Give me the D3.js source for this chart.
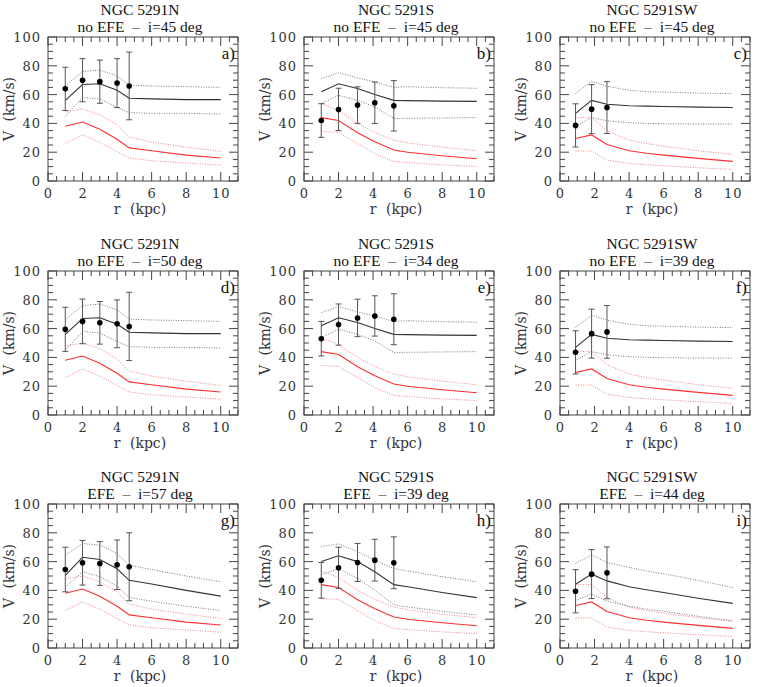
<!DOCTYPE html>
<html>
<head>
<meta charset="utf-8">
<title>NGC 5291 rotation curves</title>
<script src="https://cdn.jsdelivr.net/npm/d3@7"></script>
<style>
body{
  margin:0;
  background:#fff}

svg{
  display:block}
</style>
</head>
<body>
<script>
// Panel texts (row by row).
const galaxyNames = ['NGC 5291N', 'NGC 5291S', 'NGC 5291SW',
                     'NGC 5291N', 'NGC 5291S', 'NGC 5291SW',
                     'NGC 5291N', 'NGC 5291S', 'NGC 5291SW']
const subTitles = ['no EFE  \u2013  i=45 deg', 'no EFE  \u2013  i=45 deg', 'no EFE  \u2013  i=45 deg',
                   'no EFE  \u2013  i=50 deg', 'no EFE  \u2013  i=34 deg', 'no EFE  \u2013  i=39 deg',
                   'EFE  \u2013  i=57 deg', 'EFE  \u2013  i=39 deg', 'EFE  \u2013  i=44 deg']
const panelLetters = ['a)', 'b)', 'c)', 'd)', 'e)', 'f)', 'g)', 'h)', 'i)']

// Axis ticks.
const xTicks = [0, 2, 4, 6, 8, 10]
const yTicks = [0, 20, 40, 60, 80, 100]

// Observed radii (kpc) for each galaxy.
const obsR_N = [1, 2, 3, 4, 4.7]
const obsR_S = [1, 2, 3.1, 4.1, 5.2]
const obsR_SW = [0.9, 1.83, 2.72]

// Observed velocities (km/s) and errors per panel.
const obsV_a = [64, 70, 69, 68, 66]
const obsE_a = [15, 15, 15, 17, 23.5]
const obsV_b = [42, 49.7, 52.7, 54.3, 52.2]
const obsE_b = [11.7, 14.7, 12.7, 14.4, 17.5]
const obsV_c = [38.6, 49.9, 51]
const obsE_c = [15, 17, 18]
const obsV_d = [59.5, 65, 64, 63.3, 61.5]
const obsE_d = [15.3, 15.5, 14.8, 16.6, 23.7]
const obsV_e = [53, 62.8, 67.4, 68.8, 66.5]
const obsE_e = [12, 14.3, 13, 14, 17.7]
const obsV_f = [43.5, 56.5, 57.7]
const obsE_f = [15, 17, 18.3]
const obsV_g = [54.5, 59.2, 58.7, 57.8, 56.4]
const obsE_g = [15.5, 15.5, 15.2, 17.2, 23.6]
const obsV_h = [47, 55.7, 59.4, 61, 59.2]
const obsE_h = [12.4, 14.3, 13.2, 14.5, 18]
const obsV_i = [39.4, 51.3, 52.2]
const obsE_i = [15, 17, 18]

// Model radii (kpc).
const modR_N = [1, 2, 3, 4, 4.7, 6, 8, 10]
const modR_S = [1, 2, 3.1, 4.1, 5.2, 6, 8, 10]
const modR_SW = [0.9, 1.83, 2.72, 4, 5, 6, 8, 10]

// Newtonian (baryons) curves: best, upper, lower.
const newt_N = [38, 41, 36, 29, 23, 21, 18, 16]
const newtHi_N = [48, 50, 46, 39, 30.5, 27, 23.5, 20.5]
const newtLo_N = [26, 32, 27, 20.5, 16, 14, 12.5, 11]
const newt_S = [44, 42, 33.5, 27.3, 21.5, 20, 17.5, 15.5]
const newtHi_S = [53.5, 49, 40, 33.7, 28.4, 26.5, 23.5, 21]
const newtLo_S = [34.5, 33.7, 26, 19, 13.6, 12.8, 11.2, 10]
const newt_SW = [29.5, 32, 25.4, 21, 19.3, 18, 15.7, 13.6]
const newtHi_SW = [44, 44, 35, 28.4, 26, 24.2, 21, 18.5]
const newtLo_SW = [20.8, 20.8, 14.5, 12.2, 11.3, 10.6, 9.2, 8]

// MOND curves without external field effect.
const mond_N = [56, 67, 67.5, 63, 57.5, 57, 56.5, 56.5]
const mondHi_N = [66, 76, 77, 73, 66.5, 66, 65.5, 65]
const mondLo_N = [45, 58, 57, 51, 47.5, 47, 47, 46.5]
const mond_S = [62, 67.5, 64.2, 60, 56, 55.8, 55.5, 55.3]
const mondHi_S = [71, 75.3, 71.6, 68.8, 65, 65.5, 64.8, 64.4]
const mondLo_S = [53.8, 59.5, 56, 51.5, 43.4, 43.5, 43.8, 44]
const mond_SW = [47, 56, 53.3, 52.3, 52, 51.7, 51.3, 51]
const mondHi_SW = [60.7, 69.3, 65.8, 63, 62, 61.7, 61, 60.7]
const mondLo_SW = [38, 44, 41.8, 40.5, 40, 39.8, 39.6, 39.5]

// MOND curves with external field effect.
const efe_N = [50.5, 63, 61.5, 55, 47, 44.5, 40, 36]
const efeHi_N = [64.5, 72.5, 71.5, 65.5, 57.5, 54.5, 50, 46]
const efeLo_N = [42, 53, 49.5, 43, 35, 32.5, 29, 26]
const efe_S = [60, 64, 60, 53, 44, 42.5, 38.5, 35]
const efeHi_S = [70.4, 72.3, 67, 61, 55.2, 53.5, 49.5, 46]
const efeLo_S = [51, 55, 48.5, 40, 30, 28.5, 25.5, 23]
const efe_SW = [44.3, 51.3, 46.6, 42.5, 40.5, 38.5, 34.5, 31]
const efeHi_SW = [58.7, 64.6, 59.4, 56, 53.5, 51.5, 47, 42]
const efeLo_SW = [33, 37.5, 32.5, 29, 27, 25.5, 22, 19]

// Build panel lookup from the arrays above.
const obsR = [obsR_N, obsR_S, obsR_SW]
const modR = [modR_N, modR_S, modR_SW]
const newt = [[newt_N, newtHi_N, newtLo_N], [newt_S, newtHi_S, newtLo_S], [newt_SW, newtHi_SW, newtLo_SW]]
const noEfe = [[mond_N, mondHi_N, mondLo_N], [mond_S, mondHi_S, mondLo_S], [mond_SW, mondHi_SW, mondLo_SW]]
const withEfe = [[efe_N, efeHi_N, efeLo_N], [efe_S, efeHi_S, efeLo_S], [efe_SW, efeHi_SW, efeLo_SW]]
const mondRows = [noEfe, noEfe, withEfe]
const obsV = [obsV_a, obsV_b, obsV_c, obsV_d, obsV_e, obsV_f, obsV_g, obsV_h, obsV_i]
const obsE = [obsE_a, obsE_b, obsE_c, obsE_d, obsE_e, obsE_f, obsE_g, obsE_h, obsE_i]

// Layout.
const W = 763, H = 687
const pw = 190, ph = 144
const colX = [48, 304, 560]
const rowY = [37, 271, 504]
const serif = '"Liberation Serif", "Times New Roman", serif'
const tickFont = '"DejaVu Serif", serif'

const svg = d3.select('body').append('svg')
  .attr('width', W)
  .attr('height', H)

const x = d3.scaleLinear().domain([0, 11]).range([0, pw])
const y = d3.scaleLinear().domain([0, 100]).range([ph, 0])

d3.range(9).forEach(k => {
  const row = Math.floor(k / 3), col = k % 3
  const g = svg.append('g')
    .attr('transform', `translate(${colX[col]},${rowY[row]})`)

  // titles
  g.append('text')
    .attr('x', pw / 2 - 3).attr('y', -22.5)
    .attr('text-anchor', 'middle')
    .attr('font-family', serif).attr('font-size', 15.5).attr('fill', '#111')
    .text(galaxyNames[k])
  g.append('text')
    .attr('x', pw / 2 - 3).attr('y', -5)
    .attr('text-anchor', 'middle')
    .attr('font-family', serif).attr('font-size', 15.5).attr('fill', '#111')
    .style('white-space', 'pre')
    .text(subTitles[k])

  // minor / major ticks on all four sides, pointing inward
  const xMinor = d3.range(0, 11.01, 0.5)
  const yMinor = d3.range(0, 100.1, 5)
  const tk = g.append('g').attr('stroke', '#444').attr('stroke-width', 1)
  xMinor.forEach(v => {
    const len = v % 2 === 0 ? 9 : 5
    tk.append('line').attr('x1', x(v)).attr('x2', x(v)).attr('y1', ph).attr('y2', ph - len)
    tk.append('line').attr('x1', x(v)).attr('x2', x(v)).attr('y1', 0).attr('y2', len)
  })
  yMinor.forEach(v => {
    const len = v % 20 === 0 ? 9 : 5
    tk.append('line').attr('y1', y(v)).attr('y2', y(v)).attr('x1', 0).attr('x2', len)
    tk.append('line').attr('y1', y(v)).attr('y2', y(v)).attr('x1', pw).attr('x2', pw - len)
  })

  // tick labels
  g.selectAll('.xl').data(xTicks).enter().append('text')
    .attr('x', d => x(d) + 0.5).attr('y', ph + 17)
    .attr('text-anchor', 'middle')
    .attr('font-family', tickFont).attr('font-size', 13).attr('fill', '#333')
    .attr('letter-spacing', 1)
    .text(d => d)
  g.selectAll('.yl').data(yTicks).enter().append('text')
    .attr('x', -7).attr('y', d => y(d) + 5)
    .attr('text-anchor', 'end')
    .attr('font-family', tickFont).attr('font-size', 13).attr('fill', '#333')
    .attr('letter-spacing', 1)
    .text(d => d)

  // axis titles
  g.append('text')
    .attr('x', pw / 2 - 3).attr('y', ph + 33)
    .attr('text-anchor', 'middle')
    .attr('font-family', tickFont).attr('font-size', 14).attr('fill', '#333')
    .attr('word-spacing', 5)
    .text('r (kpc)')
  g.append('text')
    .attr('transform', `translate(-34,${ph / 2}) rotate(-90)`)
    .attr('text-anchor', 'middle')
    .attr('font-family', tickFont).attr('font-size', 14).attr('fill', '#333')
    .attr('word-spacing', 5)
    .text('V (km/s)')

  // panel letter
  g.append('text')
    .attr('x', pw - 3).attr('y', 22)
    .attr('text-anchor', 'end')
    .attr('font-family', serif).attr('font-size', 17).attr('fill', '#111')
    .text(panelLetters[k])

  // model curves
  const rr = modR[col]
  const line = d3.line().x((d, i) => x(rr[i])).y(d => y(d))
  const [nb, nh, nl] = newt[col]
  const [mb, mh, ml] = mondRows[row][col]

  const dotted = [[nh, '#f08080'], [nl, '#f08080'], [mh, '#777'], [ml, '#777']]
  dotted.forEach(([arr, c]) => {
    g.append('path').attr('d', line(arr))
      .attr('fill', 'none').attr('stroke', c)
      .attr('stroke-width', 1).attr('stroke-dasharray', '1,1.5')
  })
  g.append('path').attr('d', line(nb))
    .attr('fill', 'none').attr('stroke', '#ff3030').attr('stroke-width', 1.1)
  g.append('path').attr('d', line(mb))
    .attr('fill', 'none').attr('stroke', '#333').attr('stroke-width', 1.1)

  // data with error bars
  const rs = obsR[col]
  const pts = rs.map((r, i) => ({ r, v: obsV[k][i], e: obsE[k][i] }))
  const eb = g.append('g').attr('stroke', '#555').attr('stroke-width', 1)
  pts.forEach(p => {
    eb.append('line').attr('x1', x(p.r)).attr('x2', x(p.r))
      .attr('y1', y(p.v - p.e)).attr('y2', y(p.v + p.e))
    eb.append('line').attr('x1', x(p.r) - 3).attr('x2', x(p.r) + 3)
      .attr('y1', y(p.v - p.e)).attr('y2', y(p.v - p.e))
    eb.append('line').attr('x1', x(p.r) - 3).attr('x2', x(p.r) + 3)
      .attr('y1', y(p.v + p.e)).attr('y2', y(p.v + p.e))
  })
  g.selectAll('.pt').data(pts).enter().append('circle')
    .attr('cx', d => x(d.r)).attr('cy', d => y(d.v))
    .attr('r', 2.8).attr('fill', '#000')

  // frame
  g.append('rect').attr('width', pw).attr('height', ph)
    .attr('fill', 'none').attr('stroke', '#444').attr('stroke-width', 1)
})
</script>
</body>
</html>
